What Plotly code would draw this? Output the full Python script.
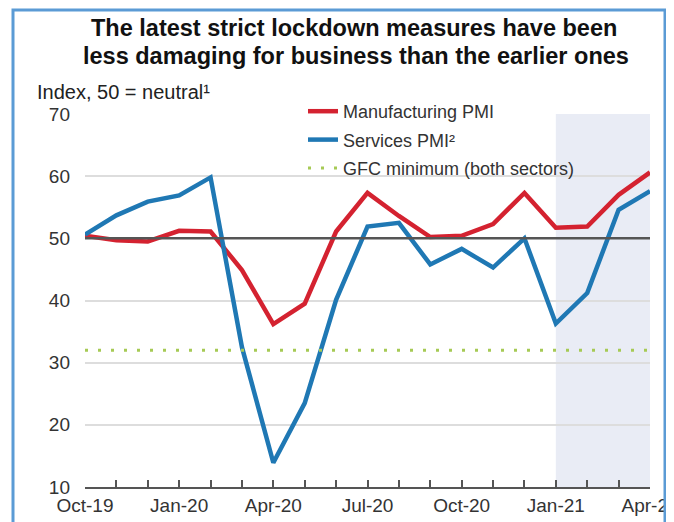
import plotly.graph_objects as go

months = ["Oct-19", "Nov-19", "Dec-19", "Jan-20", "Feb-20", "Mar-20", "Apr-20",
          "May-20", "Jun-20", "Jul-20", "Aug-20", "Sep-20", "Oct-20", "Nov-20",
          "Dec-20", "Jan-21", "Feb-21", "Mar-21", "Apr-21"]
manufacturing = [50.4, 49.7, 49.5, 51.2, 51.1, 44.9, 36.2, 39.5, 51.1, 57.3,
                 53.6, 50.2, 50.4, 52.3, 57.3, 51.7, 51.9, 57.0, 60.6]
services = [50.6, 53.7, 55.9, 56.9, 59.8, 32.5, 13.9, 23.5, 40.1, 51.9,
            52.5, 45.8, 48.3, 45.3, 50.0, 36.3, 41.2, 54.6, 57.6]
gfc_minimum = 32.0
quarter_labels = ["Oct-19", "Jan-20", "Apr-20", "Jul-20", "Oct-20", "Jan-21", "Apr-21"]
shade_start, shade_end = "Jan-21", "Apr-21"
neutral = 50
y_ticks = [10, 20, 30, 40, 50, 60, 70]

# page offset (default body margin of the html page)
OFF = 8
W, H = 674 - OFF, 522 - OFF
# plot area in window pixels: x 85..650, y 114..487
ML, MT = 85 - OFF, 114 - OFF
MR, MB = W - (650 - OFF), H - (487 - OFF)
PW, PH = W - ML - MR, H - MT - MB


def px_x(px):
    return (px - OFF - ML) / PW


def px_y(py):
    return (H - MB - (py - OFF)) / PH


FONT = "Liberation Sans, Arial, sans-serif"

fig = go.Figure()
fig.add_trace(go.Scatter(x=months, y=manufacturing, mode="lines", name="Manufacturing PMI",
                         line=dict(color="#D42230", width=4.5), legendgroup="a"))
fig.add_trace(go.Scatter(x=months, y=services, mode="lines", name="Services PMI²",
                         line=dict(color="#1F78B4", width=4.5), legendgroup="b"))
fig.add_trace(go.Scatter(x=months, y=[gfc_minimum] * len(months), mode="lines",
                         name="GFC minimum (both sectors)",
                         line=dict(color="#A6CA55", width=3, dash="3px,10px"), legendgroup="c"))

# shaded period
fig.add_shape(type="rect", xref="x", yref="y", x0=months.index(shade_start),
              x1=months.index(shade_end), y0=10, y1=70,
              fillcolor="#E9ECF5", line=dict(width=0), layer="below")
# neutral line
fig.add_shape(type="line", xref="paper", yref="y", x0=0, x1=1, y0=neutral, y1=neutral,
              line=dict(color="#555555", width=2.5))
# outer frame
fig.add_shape(type="rect", xref="paper", yref="paper", x0=px_x(13), x1=px_x(665),
              y0=px_y(540), y1=px_y(10), line=dict(color="#5B9BD5", width=3),
              fillcolor="rgba(0,0,0,0)")

fig.add_annotation(text="<b>The latest strict lockdown measures have been</b>",
                   xref="paper", yref="paper", x=px_x(354), y=px_y(28.5),
                   xanchor="center", yanchor="middle",
                   showarrow=False, font=dict(family=FONT, size=23.5, color="#111111"))
fig.add_annotation(text="<b>less damaging for business than the earlier ones</b>",
                   xref="paper", yref="paper", x=px_x(356), y=px_y(56),
                   xanchor="center", yanchor="middle",
                   showarrow=False, font=dict(family=FONT, size=23.5, color="#111111"))
fig.add_annotation(text="Index, 50 = neutral¹", xref="paper", yref="paper",
                   x=px_x(35), y=px_y(92), xanchor="left", yanchor="middle", showarrow=False,
                   font=dict(family=FONT, size=20, color="#222222"))

fig.update_layout(
    width=W, height=H,
    margin=dict(l=ML, r=MR, t=MT, b=MB, autoexpand=False),
    paper_bgcolor="white", plot_bgcolor="white",
    font=dict(family=FONT, color="#333333"),
    showlegend=True,
    legend=dict(x=px_x(303), y=px_y(93), xanchor="left", yanchor="top",
                bgcolor="rgba(255,255,255,0)", font=dict(family=FONT, size=18, color="#333333"),
                tracegroupgap=2, itemwidth=30),
)
fig.update_xaxes(type="category", range=[0, len(months) - 1], automargin=False,
                 tickvals=months,
                 ticktext=[m if m in quarter_labels else "" for m in months],
                 ticks="inside", ticklen=7, tickwidth=2, tickcolor="#555555",
                 showline=True, linecolor="#555555", linewidth=2,
                 showgrid=False, tickfont=dict(family=FONT, size=19, color="#333333"))
fig.update_yaxes(range=[10, 70], tickvals=y_ticks, showgrid=True, gridcolor="#DDDDDD",
                 gridwidth=1.5, zeroline=False, showline=False, ticks="", automargin=False,
                 ticklabelstandoff=14,
                 tickfont=dict(family=FONT, size=19, color="#333333"))

fig.write_html("out.html")
